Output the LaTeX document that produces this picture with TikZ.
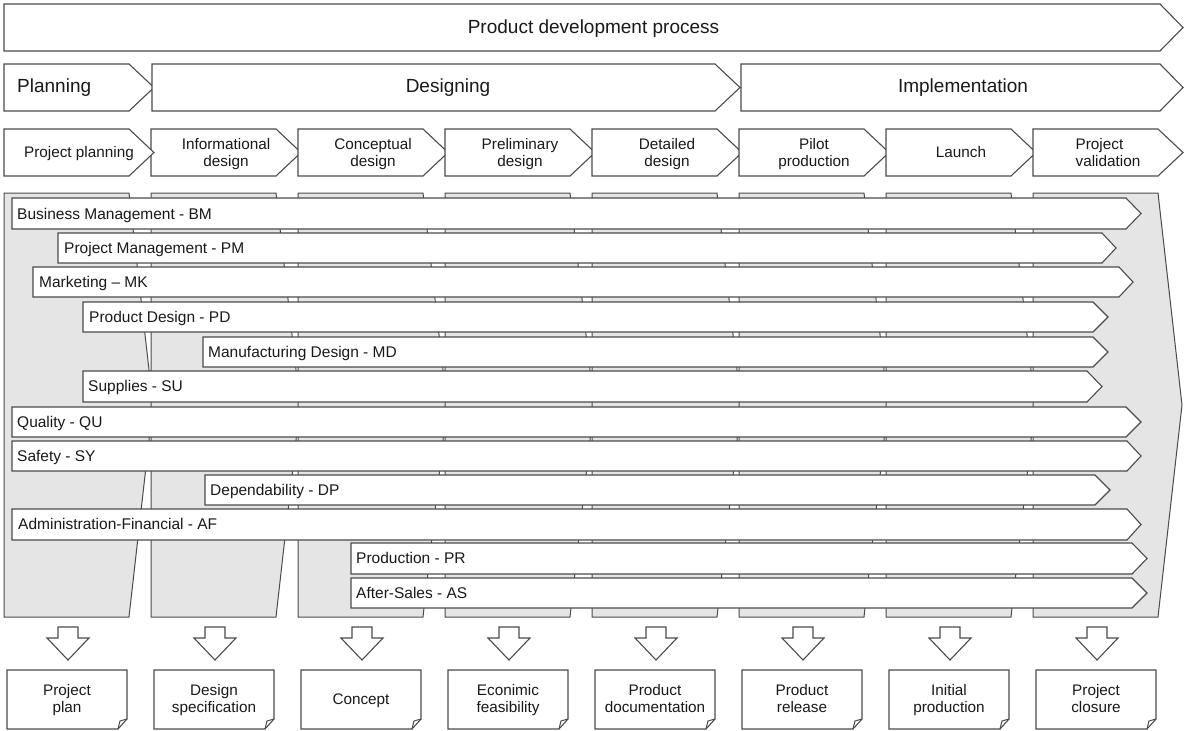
\documentclass[tikz,border=0pt]{standalone}
\usepackage{fontspec}
\setmainfont{Liberation Sans}
\definecolor{edge}{RGB}{75,75,75}
\definecolor{colfill}{RGB}{229,229,229}
\definecolor{txt}{RGB}{25,25,25}
\tikzset{
  shapeline/.style={draw=edge, line width=1.1pt, line join=miter, fill=white},
  colshape/.style={draw=edge, line width=1pt, line join=miter, fill=colfill},
  bigtxt/.style={font=\fontsize{19}{22}\selectfont, text=txt, inner sep=0, anchor=base},
  midtxt/.style={font=\fontsize{15.3}{17}\selectfont, text=txt, inner sep=0, anchor=base},
  fntxt/.style={font=\fontsize{15.5}{18}\selectfont, text=txt, anchor=base west, inner sep=0},
}
\newcommand\chevshape[6]{\path[#1] (#2,#3) -- (#5,#3) -- (#6,{(#3+#4)/2}) -- (#5,#4) -- (#2,#4) -- cycle;}
\newcommand\twoc[2]{\vtop{\baselineskip=17pt\halign{\hfil##\hfil\cr#1\cr#2\cr}}}
\newcommand\twol[2]{\vtop{\baselineskip=17pt\halign{##\hfil\cr#1\cr#2\cr}}}
\begin{document}
\begin{tikzpicture}[x=1pt,y=-1pt]
\useasboundingbox (0,0) rectangle (1184,731);
% row 1
\chevshape{shapeline}{4}{4}{51}{1160}{1183}
\node[bigtxt] (pdp) at (593.5,33.5) {Product development process};
% row 2
\chevshape{shapeline}{4}{64}{111}{129}{154}
\chevshape{shapeline}{152}{64}{111}{715}{740}
\chevshape{shapeline}{741}{64}{111}{1160}{1183}
\node[bigtxt, anchor=base west] (planning) at (17,92.5) {Planning};
\node[bigtxt] (designing) at (448,92.5) {Designing};
\node[bigtxt] (implementation) at (963,92.5) {Implementation};
% row 3 phases
\foreach \i/\lab in {1/{\twoc{Informational}{design}},2/{\twoc{Conceptual}{design}},3/{\twoc{Preliminary}{design}},4/{\twoc{Detailed}{design}},5/{\twoc{Pilot}{production}}}{
  \pgfmathsetmacro\sx{4+147*\i}
  \chevshape{shapeline}{\sx}{129}{176}{\sx+125}{\sx+150}
  \node[midtxt] (ph\i) at (\sx+75,149) {\lab};
}
\chevshape{shapeline}{4}{129}{176}{129}{154}
\node[midtxt] (ph0) at (79,157.5) {Project planning};
\chevshape{shapeline}{886}{129}{176}{1011}{1036}
\node[midtxt] (ph6) at (961,157.5) {Launch};
\chevshape{shapeline}{1033}{129}{176}{1158}{1183}
\node[midtxt] (ph7) at (1108,149) {\twol{Project}{validation}};
% columns
\foreach \i in {0,...,7}{
  \pgfmathsetmacro\sx{4+147*\i}
  \chevshape{colshape}{\sx}{193}{617}{\sx+125}{\sx+149}
}
% functions
\chevshape{shapeline}{12}{198}{229}{1126}{1141}
\chevshape{shapeline}{58}{233}{263}{1102}{1116}
\chevshape{shapeline}{33}{267}{297}{1119}{1133}
\chevshape{shapeline}{83}{302}{332}{1093}{1108}
\chevshape{shapeline}{203}{337}{367}{1093}{1108}
\chevshape{shapeline}{83}{371}{402}{1087}{1102}
\chevshape{shapeline}{12}{407}{437}{1126}{1141}
\chevshape{shapeline}{12}{441}{471}{1127}{1141}
\chevshape{shapeline}{205}{475}{505}{1095}{1110}
\chevshape{shapeline}{12}{509}{540}{1127}{1141}
\chevshape{shapeline}{351}{543}{574}{1132}{1147}
\chevshape{shapeline}{351}{578}{608}{1132}{1147}
\node[fntxt] (bm) at (17,219) {Business Management - BM};
\node[fntxt] (pm) at (64,253) {Project Management - PM};
\node[fntxt] (mk) at (39,287) {Marketing – MK};
\node[fntxt] (pd) at (89,322) {Product Design - PD};
\node[fntxt] (md) at (208,357) {Manufacturing Design - MD};
\node[fntxt] (su) at (88,391.5) {Supplies - SU};
\node[fntxt] (qu) at (17,427) {Quality - QU};
\node[fntxt] (sy) at (17,461) {Safety - SY};
\node[fntxt] (dp) at (210,495) {Dependability - DP};
\node[fntxt] (af) at (18,529.5) {Administration-Financial - AF};
\node[fntxt] (pr) at (356,563.5) {Production - PR};
\node[fntxt] (as) at (356,598) {After-Sales - AS};
% down arrows and documents
\foreach \i in {0,...,7}{
  \pgfmathsetmacro\sx{4+147*\i}
  \pgfmathsetmacro\cx{\sx+64}
  \path[shapeline] (\cx-10,627) -- (\cx+10,627) -- (\cx+10,638) -- (\cx+21,638) -- (\cx,660) -- (\cx-21,638) -- (\cx-10,638) -- cycle;
  \path[shapeline] (\sx+3,670) -- (\sx+123,670) -- (\sx+123,719) -- (\sx+114,729) -- (\sx+3,729) -- cycle;
  \draw[edge, line width=1pt, line join=miter] (\sx+114,729) -- (\sx+116,721) -- (\sx+123,719);
}
\node[midtxt] (doc0) at (67,695.5) {\twoc{Project}{plan}};
\node[midtxt] (doc1) at (214,695.5) {\twoc{Design}{specification}};
\node[midtxt] (doc2) at (361,704.5) {Concept};
\node[midtxt] (doc3) at (508,695.5) {\twoc{Econimic}{feasibility}};
\node[midtxt] (doc4) at (655,695.5) {\twoc{Product}{documentation}};
\node[midtxt] (doc5) at (802,695.5) {\twoc{Product}{release}};
\node[midtxt] (doc6) at (949,695.5) {\twoc{Initial}{production}};
\node[midtxt] (doc7) at (1096,695.5) {\twoc{Project}{closure}};
\end{tikzpicture}
\end{document}
